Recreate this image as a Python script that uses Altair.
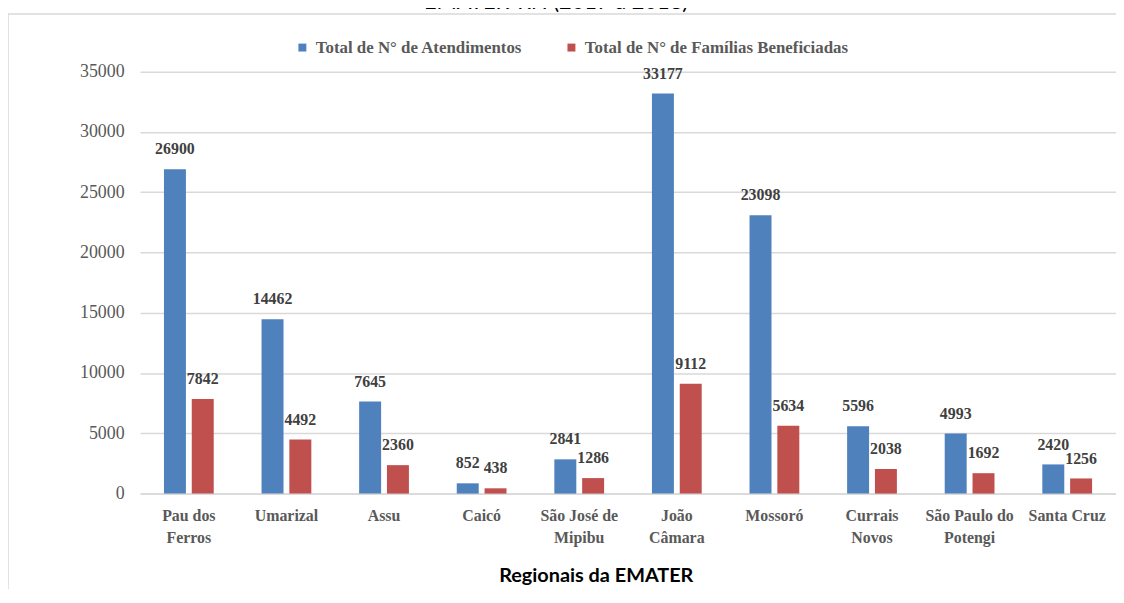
import altair as alt
import pandas as pd

categories = ["Pau dos Ferros", "Umarizal", "Assu", "Caicó", "São José de Mipibu",
              "João Câmara", "Mossoró", "Currais Novos", "São Paulo do Potengi", "Santa Cruz"]
tick_label_lines = [["Pau dos", "Ferros"], ["Umarizal"], ["Assu"], ["Caicó"],
                    ["São José de", "Mipibu"], ["João", "Câmara"], ["Mossoró"],
                    ["Currais", "Novos"], ["São Paulo do", "Potengi"], ["Santa Cruz"]]
series = ["Total de N° de Atendimentos", "Total de N° de Famílias Beneficiadas"]
atendimentos = [26900, 14462, 7645, 852, 2841, 33177, 23098, 5596, 4993, 2420]
familias = [7842, 4492, 2360, 438, 1286, 9112, 5634, 2038, 1692, 1256]
y_ticks = [0, 5000, 10000, 15000, 20000, 25000, 30000, 35000]
colors = ["#4F81BD", "#C0504D"]
title_text = "EMATER-RN (2017 a 2018)"
x_title = "Regionais da EMATER"

rows = []
for i, c in enumerate(categories):
    rows.append({"regional": c, "serie": series[0], "valor": atendimentos[i]})
    rows.append({"regional": c, "serie": series[1], "valor": familias[i]})
df = pd.DataFrame(rows)

label_expr = ""
for c, lines in zip(categories, tick_label_lines):
    arr = "[" + ",".join("'" + l + "'" for l in lines) + "]"
    label_expr += f"datum.value == '{c}' ? {arr} : "
label_expr += "datum.label"

W, H = 983, 425
SERIF = "Liberation Serif, Times New Roman, DejaVu Serif, serif"

x_enc = alt.X("regional:N", sort=categories,
              scale=alt.Scale(paddingInner=0.49, paddingOuter=0.245),
              axis=alt.Axis(title=x_title, labelExpr=label_expr, labelAngle=0,
                            labelFont=SERIF, labelFontWeight="bold", labelFontSize=16,
                            labelColor="#595959", labelLineHeight=22, labelPadding=14,
                            labelLimit=300, ticks=False, domainColor="#D9D9D9",
                            domainWidth=1.5, titleFont="Lato", titleFontSize=20,
                            titleFontWeight="bold", titleColor="#000000",
                            titleX=459, titleY=83, titleBaseline="middle",
                            titleAlign="center"))
xo_enc = alt.XOffset("serie:N", sort=series,
                     scale=alt.Scale(paddingInner=0.21, paddingOuter=0))
y_enc = alt.Y("valor:Q", scale=alt.Scale(domain=[0, 35000], nice=False),
              axis=alt.Axis(title=None, values=y_ticks, format="d", domain=False,
                            ticks=False, grid=True, gridColor="#D9D9D9", gridWidth=1.5,
                            labelFont=SERIF, labelFontSize=18, labelColor="#595959",
                            labelPadding=16))

bars = alt.Chart(df).mark_bar().encode(
    x=x_enc, xOffset=xo_enc, y=y_enc,
    color=alt.Color("serie:N", sort=series,
                    scale=alt.Scale(domain=series, range=colors),
                    legend=alt.Legend(orient="none", legendX=155, legendY=-33,
                                      direction="horizontal", title=None,
                                      symbolType="square", symbolSize=64,
                                      symbolStrokeWidth=0,
                                      labelFont=SERIF, labelFontSize=17,
                                      labelFontWeight="bold", labelColor="#595959",
                                      labelOffset=5, columnPadding=40, padding=0,
                                      labelLimit=400))
)

labels = alt.Chart(df).mark_text(baseline="alphabetic", dy=-15, font=SERIF,
                                 fontWeight="bold", fontSize=16, color="#404040").encode(
    x=x_enc, xOffset=xo_enc, y=y_enc, text=alt.Text("valor:Q", format="d")
)

title_df = pd.DataFrame({"t": [title_text]})
title_mark = alt.Chart(title_df).mark_text(font="Lato", fontSize=22, color="#000000",
                                           baseline="alphabetic", align="center").encode(
    x=alt.value(419), y=alt.value(-63), text="t:N"
)

border_df = pd.DataFrame({"b": [1]})
border = alt.Chart(border_df).mark_rect(fillOpacity=0, stroke="#D9D9D9", strokeWidth=1.5).encode(
    x=alt.value(-133), x2=alt.value(W + 10), y=alt.value(-58), y2=alt.value(H + 200)
)

chart = alt.layer(border, bars, labels, title_mark).properties(
    width=W, height=H,
    autosize=alt.AutoSizeParams(type="none"),
    padding={"left": 133, "top": 62, "right": 0, "bottom": 94},
).configure_view(stroke=None)

chart.save("out.html", embed_options={"renderer": "svg", "actions": False})
